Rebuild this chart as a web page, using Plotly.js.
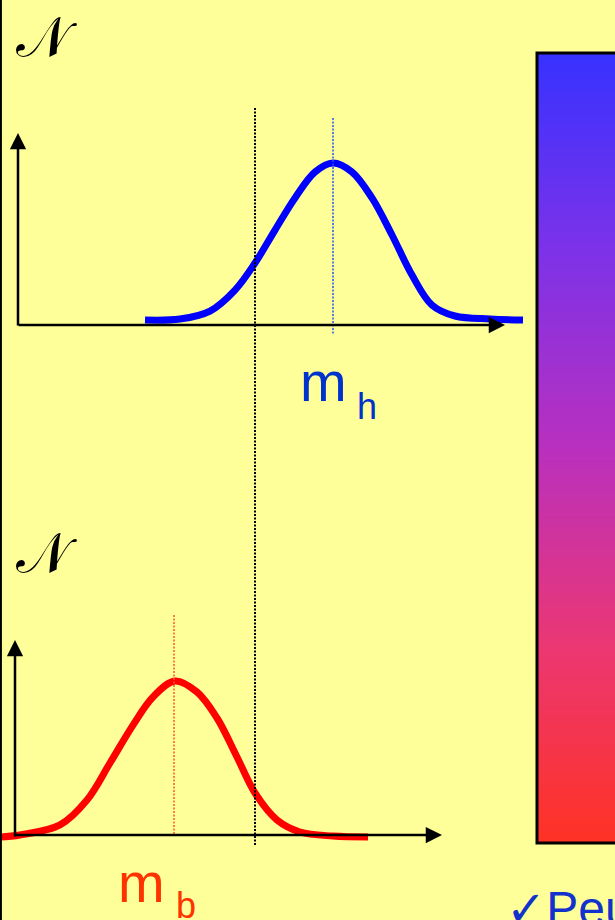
<!DOCTYPE html>
<html>
<head>
<meta charset="utf-8">
<script src="https://cdn.plot.ly/plotly-3.0.1.min.js"></script>
<style>html,body{margin:0;padding:0;background:#FFFF99;}#chart{width:615px;height:920px;}</style>
</head>
<body>
<div id="chart"></div>
<script>
// Upper distribution (m_h), x in mass units, N in count units
var topX = [2.9, 3.6, 4.2, 4.7, 5.1, 5.5, 5.9, 6.3, 6.66, 7.04, 7.44, 7.84, 8.24, 8.64, 9.1, 9.8, 10.46];
var topN = [0.033, 0.04, 0.093, 0.233, 0.413, 0.633, 0.847, 1.02, 1.08, 1.02, 0.847, 0.6, 0.333, 0.133, 0.06, 0.04, 0.033];
// Lower distribution (m_b)
var botX = [0, 0.4, 1.2, 1.74, 2.2, 2.66, 3.06, 3.5, 3.94, 4.34, 4.74, 5.1, 5.54, 6.0, 6.66, 7.36];
var botN = [-0.013, 0, 0.067, 0.233, 0.48, 0.733, 0.92, 1.027, 0.953, 0.78, 0.52, 0.28, 0.1, 0.02, -0.007, -0.013];
// Reference marks
var threshold = 5.1;
var meanTop = 6.66;
var meanBot = 3.48;
var labels = {axis: "\uD835\uDCA9", top: "m", topSub: "h", bot: "m", botSub: "b", note: "\u2713Peu"};

var traces = [
  {x: topX, y: topN, xaxis: 'x', yaxis: 'y', type: 'scatter', mode: 'lines',
   line: {color: '#0000FF', width: 7, shape: 'spline', smoothing: 1}, hoverinfo: 'skip'},
  {x: botX, y: botN, xaxis: 'x', yaxis: 'y2', type: 'scatter', mode: 'lines',
   line: {color: '#FF0000', width: 7, shape: 'spline', smoothing: 1}, hoverinfo: 'skip'},
  {type: 'heatmap', x: [0, 1], y: [0, 1], z: [[0, 0], [1, 1]], xaxis: 'x3', yaxis: 'y3',
   zsmooth: 'best', showscale: false, hoverinfo: 'skip',
   colorscale: [[0, 'rgb(255,50,35)'], [0.25, 'rgb(235,55,115)'], [0.5, 'rgb(185,48,190)'],
                [0.75, 'rgb(125,50,232)'], [1, 'rgb(55,50,255)']]}
];

function py(p) { return 1 - p / 920; }

var arrowBase = {text: '', showarrow: true, arrowhead: 2, arrowsize: 1.3, arrowwidth: 2.5,
  arrowcolor: '#000000', standoff: 0, startstandoff: 0};
function arrow(xr, yr, x, y, ax, ay) {
  return Object.assign({}, arrowBase, {xref: xr, yref: yr, axref: xr, ayref: yr, x: x, y: y, ax: ax, ay: ay});
}

var annotations = [
  arrow('x', 'y', 0.36, 1.28, 0.36, -0.013),
  arrow('x', 'y', 10.1, 0, 0.34, 0),
  arrow('x', 'y2', 0.3, 1.3, 0.3, -0.02),
  arrow('x', 'y2', 8.84, 0, 0.28, 0),
  {text: labels.axis, xref: 'paper', yref: 'paper', x: 46 / 615, y: py(36), showarrow: false,
   xanchor: 'center', yanchor: 'middle', font: {family: 'DejaVu Serif, DejaVu Sans, Noto Sans', size: 56, color: '#000000'}},
  {text: labels.axis, xref: 'paper', yref: 'paper', x: 46 / 615, y: py(552), showarrow: false,
   xanchor: 'center', yanchor: 'middle', font: {family: 'DejaVu Serif, DejaVu Sans, Noto Sans', size: 56, color: '#000000'}},
  {text: labels.top, xref: 'paper', yref: 'paper', x: 298 / 615, y: py(382), showarrow: false,
   xanchor: 'left', yanchor: 'middle', font: {family: 'Liberation Sans, Arial', size: 56, color: '#0033CC'}},
  {text: labels.topSub, xref: 'paper', yref: 'paper', x: 355 / 615, y: py(406), showarrow: false,
   xanchor: 'left', yanchor: 'middle', font: {family: 'Liberation Sans, Arial', size: 36, color: '#0033CC'}},
  {text: labels.bot, xref: 'paper', yref: 'paper', x: 116 / 615, y: py(882), showarrow: false,
   xanchor: 'left', yanchor: 'middle', font: {family: 'Liberation Sans, Arial', size: 56, color: '#FF3300'}},
  {text: labels.botSub, xref: 'paper', yref: 'paper', x: 174 / 615, y: py(905), showarrow: false,
   xanchor: 'left', yanchor: 'middle', font: {family: 'Liberation Sans, Arial', size: 36, color: '#FF3300'}},
  {text: labels.note, xref: 'paper', yref: 'paper', x: 504 / 615, y: py(908), showarrow: false,
   xanchor: 'left', yanchor: 'middle', font: {family: 'Liberation Sans, DejaVu Sans', size: 48, color: '#1133CC'}}
];

var shapes = [
  {type: 'line', xref: 'paper', yref: 'paper', x0: 0.0015, x1: 0.0015, y0: 0, y1: 1, line: {color: '#000000', width: 2}},
  {type: 'line', xref: 'x', yref: 'paper', x0: threshold, x1: threshold, y0: py(108), y1: py(845),
   line: {color: '#000000', width: 2, dash: '2px,1.5px'}},
  {type: 'line', xref: 'x', yref: 'y', x0: meanTop, x1: meanTop, y0: 1.38, y1: -0.067,
   line: {color: '#2255EE', width: 1.5, dash: '2px,1.5px'}},
  {type: 'line', xref: 'x', yref: 'y2', x0: meanBot, x1: meanBot, y0: 1.467, y1: 0,
   line: {color: '#FF5533', width: 1.5, dash: '2px,1.5px'}},
  {type: 'rect', xref: 'paper', yref: 'paper', x0: 537 / 615, x1: 1.02, y0: py(843), y1: py(53),
   line: {color: '#000000', width: 3}, fillcolor: 'rgba(0,0,0,0)', layer: 'above'}
];

var hidden = {visible: false, fixedrange: true};
var layout = {
  width: 615, height: 920, margin: {l: 0, r: 0, t: 0, b: 0},
  paper_bgcolor: '#FFFF99', plot_bgcolor: 'rgba(0,0,0,0)', showlegend: false,
  xaxis: Object.assign({domain: [0, 1], range: [0, 12.3], anchor: 'y'}, hidden),
  yaxis: Object.assign({domain: [0.5, 1], range: [-0.9, 2.1667], anchor: 'x'}, hidden),
  yaxis2: Object.assign({domain: [0, 0.5], range: [-0.5667, 2.5], anchor: 'x'}, hidden),
  xaxis3: Object.assign({domain: [537 / 615, 1], range: [0, 1], anchor: 'y3'}, hidden),
  yaxis3: Object.assign({domain: [py(843), py(53)], range: [0, 1], anchor: 'x3'}, hidden),
  annotations: annotations, shapes: shapes
};

Plotly.newPlot('chart', traces, layout, {staticPlot: true, displayModeBar: false});
</script>
</body>
</html>
